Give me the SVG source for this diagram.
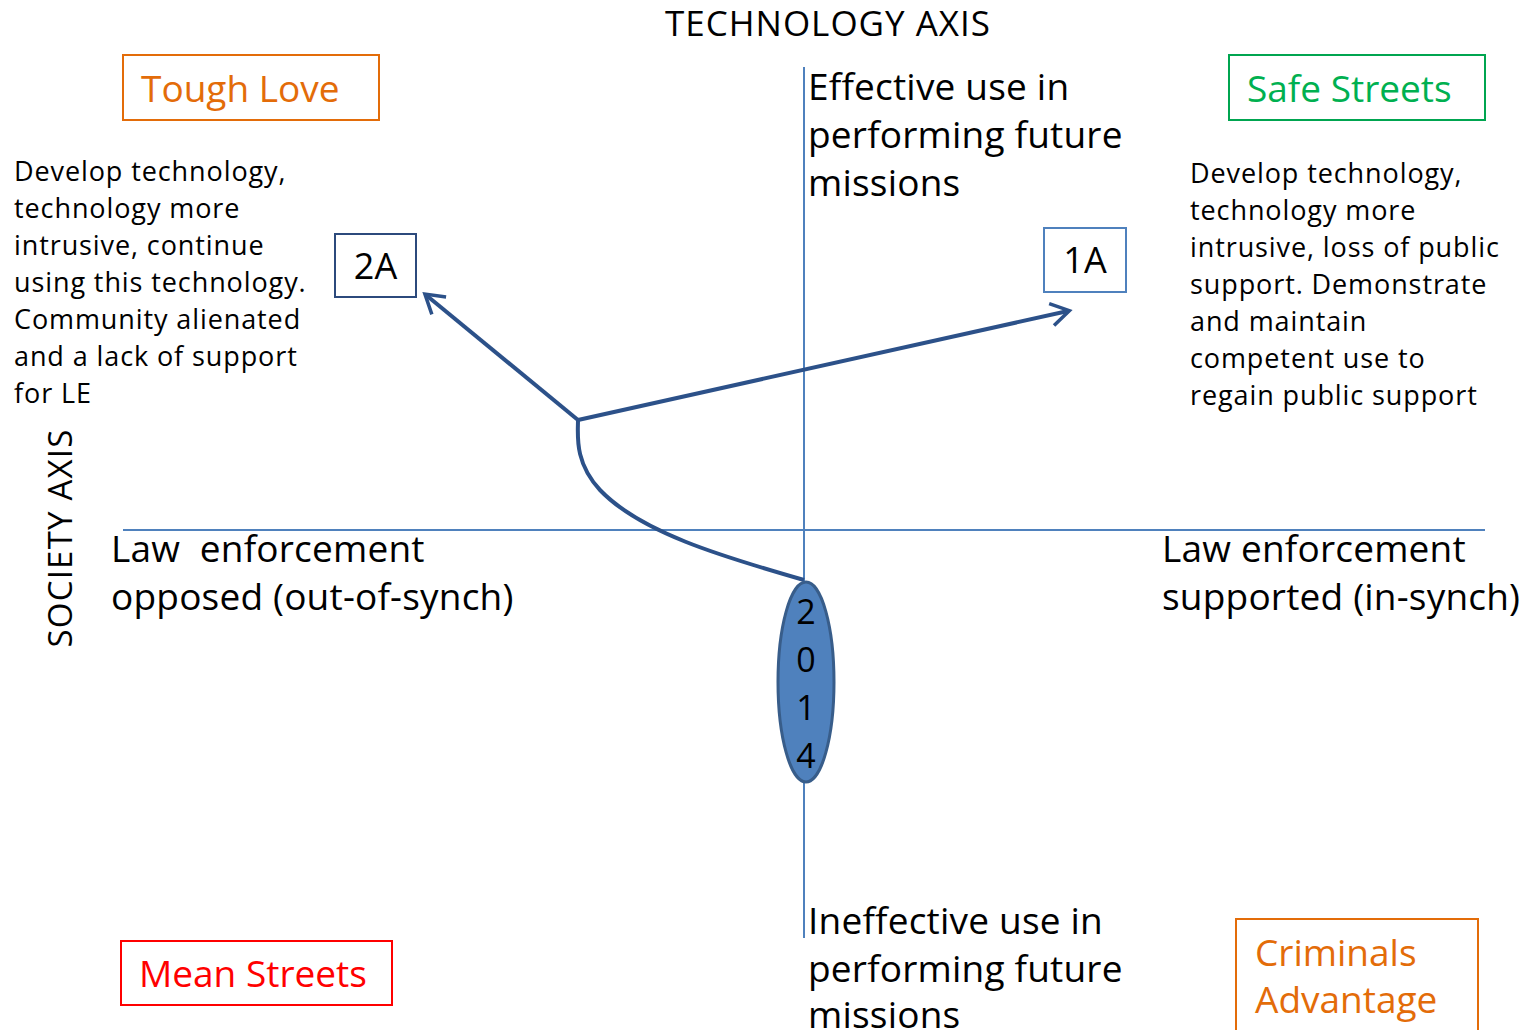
<svg xmlns="http://www.w3.org/2000/svg" width="1529" height="1030" viewBox="0 0 1529 1030">
<style>
text{font-family:"Open Sans",Lato,"Liberation Sans",sans-serif;fill:#000}
.axis{stroke:#4f81bd;stroke-width:2;fill:none}
.big{font-size:37px;letter-spacing:0.2px}
.mid{font-size:27px;letter-spacing:0.9px}
.head{font-size:37px}
.conn{stroke:#2c5189;stroke-width:4;fill:none}
</style>
<defs>
<marker id="arr" viewBox="0 0 20 20" refX="14" refY="10" markerWidth="7" markerHeight="7" orient="auto" markerUnits="strokeWidth">
<path d="M2,2 L15,10 L2,18" fill="none" stroke="#2c5189" stroke-width="2.5"/>
</marker>
</defs>
<rect width="1529" height="1030" fill="#fff"/>
<g id="axes">
<line class="axis" x1="804" y1="67" x2="804" y2="938"/>
<line class="axis" x1="123" y1="530" x2="1485" y2="530"/>
</g>
<g id="tech-axis-label"><text x="828" y="36" text-anchor="middle" font-size="35" letter-spacing="1">TECHNOLOGY AXIS</text></g>
<g id="society-axis-label"><text transform="translate(72,538) rotate(-90)" text-anchor="middle" font-size="33" letter-spacing="1.2">SOCIETY AXIS</text></g>
<g id="tough-love">
<rect x="123" y="55" width="256" height="65" fill="#fff" stroke="#e36c09" stroke-width="2"/>
<text x="141" y="102" class="head" style="fill:#e36c09">Tough Love</text>
</g>
<g id="safe-streets">
<rect x="1229" y="55" width="256" height="65" fill="#fff" stroke="#00a550" stroke-width="2"/>
<text x="1247" y="102" class="head" style="fill:#00b050">Safe Streets</text>
</g>
<g id="mean-streets">
<rect x="121" y="941" width="271" height="64" fill="#fff" stroke="#ff0000" stroke-width="2"/>
<text x="139" y="987" class="head" style="fill:#ff0000">Mean Streets</text>
</g>
<g id="criminals-advantage">
<rect x="1236" y="919" width="242" height="130" fill="#fff" stroke="#e36c09" stroke-width="2"/>
<text x="1255" y="966" class="head" style="fill:#e36c09">Criminals</text>
<text x="1255" y="1013" class="head" style="fill:#e36c09">Advantage</text>
</g>
<g id="left-desc">
<text x="14" y="181" class="mid">Develop technology,</text>
<text x="14" y="218" class="mid">technology more</text>
<text x="14" y="255" class="mid">intrusive, continue</text>
<text x="14" y="292" class="mid">using this technology.</text>
<text x="14" y="329" class="mid">Community alienated</text>
<text x="14" y="366" class="mid">and a lack of support</text>
<text x="14" y="403" class="mid">for LE</text>
</g>
<g id="right-desc">
<text x="1190" y="183" class="mid">Develop technology,</text>
<text x="1190" y="220" class="mid">technology more</text>
<text x="1190" y="257" class="mid">intrusive, loss of public</text>
<text x="1190" y="294" class="mid">support. Demonstrate</text>
<text x="1190" y="331" class="mid">and maintain</text>
<text x="1190" y="368" class="mid">competent use to</text>
<text x="1190" y="405" class="mid">regain public support</text>
</g>
<g id="effective">
<text x="808" y="100" class="big">Effective use in</text>
<text x="808" y="148" class="big">performing future</text>
<text x="808" y="196" class="big">missions</text>
</g>
<g id="ineffective">
<text x="808" y="934" class="big">Ineffective use in</text>
<text x="808" y="982" class="big">performing future</text>
<text x="808" y="1028" class="big">missions</text>
</g>
<g id="opposed">
<text x="111" y="562" class="big" xml:space="preserve">Law  enforcement</text>
<text x="111" y="610" class="big">opposed (out-of-synch)</text>
</g>
<g id="supported">
<text x="1162" y="562" class="big">Law enforcement</text>
<text x="1162" y="610" class="big">supported (in-synch)</text>
</g>
<g id="node-2A">
<rect x="335" y="234" width="81" height="63" fill="#fff" stroke="#2c4a7c" stroke-width="2"/>
<text x="375.5" y="279" text-anchor="middle" font-size="36">2A</text>
</g>
<g id="node-1A">
<rect x="1044" y="228" width="82" height="64" fill="#fff" stroke="#4f81bd" stroke-width="2"/>
<text x="1085" y="273" text-anchor="middle" font-size="36">1A</text>
</g>
<g id="connectors">
<path class="conn" d="M804,580 C720,556 640,532 600,490 C574,462 578,435 578,420"/>
<line class="conn" x1="578" y1="420" x2="1068" y2="311" marker-end="url(#arr)"/>
<line class="conn" x1="578" y1="420" x2="426" y2="295" marker-end="url(#arr)"/>
</g>
<g id="node-2014">
<ellipse cx="806" cy="682" rx="28" ry="100" fill="#4f81bd" stroke="#385d8a" stroke-width="3"/>
<text x="806" y="624" text-anchor="middle" font-size="34">2</text>
<text x="806" y="672" text-anchor="middle" font-size="34">0</text>
<text x="806" y="720" text-anchor="middle" font-size="34">1</text>
<text x="806" y="768" text-anchor="middle" font-size="34">4</text>
</g>
</svg>
